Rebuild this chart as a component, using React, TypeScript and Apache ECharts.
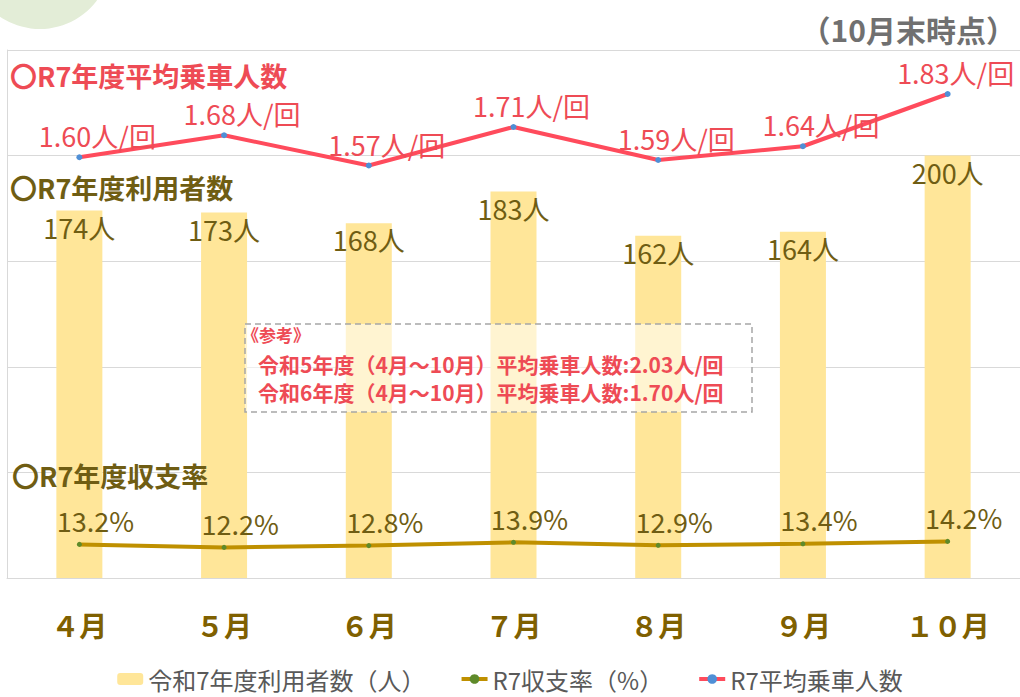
import React, { useEffect, useRef } from "react";
import * as echarts from "echarts";

const months = ["４月", "５月", "６月", "７月", "８月", "９月", "１０月"];
const users = [174, 173, 168, 183, 162, 164, 200];
const rates = [13.2, 12.2, 12.8, 13.9, 12.9, 13.4, 14.2];
const avgRiders = [1.6, 1.68, 1.57, 1.71, 1.59, 1.64, 1.83];
const refLines = [
  "令和5年度（4月～10月）平均乗車人数:2.03人/回",
  "令和6年度（4月～10月）平均乗車人数:1.70人/回",
];

const FONT = "'Noto Sans CJK JP', 'Noto Sans', sans-serif";
const OLIVE = "#6F5D13";
const RED = "#EE4B55";

export default function App() {
  const ref = useRef<HTMLDivElement>(null);
  useEffect(() => {
    if (!ref.current) return;
    const chart = echarts.init(ref.current, undefined, { renderer: "svg" });
    const lastIdx = avgRiders.length - 1;
    const avgData = avgRiders.map((v, i) =>
      i === lastIdx ? { value: v, label: { offset: [8, 0] } } : v
    );
    chart.setOption({
      animation: false,
      backgroundColor: "#ffffff",
      textStyle: { fontFamily: FONT },
      grid: { left: 7, top: 50, width: 1016, height: 528, containLabel: false },
      legend: {
        top: 662,
        left: "center",
        itemWidth: 26,
        itemHeight: 12,
        itemGap: 34,
        textStyle: { fontSize: 24, color: "#595959", fontFamily: FONT },
        data: [
          { name: "令和7年度利用者数（人）" },
          { name: "R7収支率（%）", lineStyle: { width: 4 } },
          { name: "R7平均乗車人数", lineStyle: { width: 4 } },
        ],
      },
      xAxis: {
        type: "category",
        data: months,
        axisLine: { show: true, lineStyle: { color: "#d9d9d9", width: 1 } },
        axisTick: { show: false },
        axisLabel: {
          fontSize: 28,
          fontWeight: "bold",
          color: "#7F6000",
          margin: 33,
          fontFamily: FONT,
        },
      },
      yAxis: [
        {
          type: "value",
          min: 0,
          max: 250,
          interval: 50,
          axisLabel: { show: false },
          axisTick: { show: false },
          axisLine: { show: true, lineStyle: { color: "#d9d9d9" } },
          splitLine: { show: true, lineStyle: { color: "#d9d9d9", width: 1 } },
        },
        { type: "value", min: 2, max: 178, show: false, splitLine: { show: false } },
        { type: "value", min: 0.07, max: 1.99, show: false, splitLine: { show: false } },
      ],
      series: [
        {
          name: "令和7年度利用者数（人）",
          type: "bar",
          data: users,
          barWidth: 46,
          itemStyle: { color: "#FFE699" },
          label: {
            show: true,
            position: "insideTop",
            distance: 3,
            formatter: "{c}人",
            fontSize: 27,
            color: OLIVE,
            fontFamily: FONT,
          },
          z: 2,
        },
        {
          name: "R7収支率（%）",
          type: "line",
          yAxisIndex: 1,
          data: rates,
          symbol: "circle",
          symbolSize: 5,
          lineStyle: { color: "#BF9000", width: 4 },
          itemStyle: { color: "#5E8A2A" },
          label: {
            show: true,
            position: "top",
            distance: 8,
            offset: [16, 0],
            formatter: (p: any) => Number(p.value).toFixed(1) + "%",
            fontSize: 27,
            color: OLIVE,
            fontFamily: FONT,
          },
          z: 3,
        },
        {
          name: "R7平均乗車人数",
          type: "line",
          yAxisIndex: 2,
          data: avgData,
          symbol: "circle",
          symbolSize: 6,
          lineStyle: { color: "#FF4B5C", width: 4 },
          itemStyle: { color: "#4F8FD6" },
          label: {
            show: true,
            position: "top",
            distance: 5,
            offset: [18, 0],
            formatter: (p: any) => Number(p.value).toFixed(2) + "人/回",
            fontSize: 27,
            color: RED,
            fontFamily: FONT,
          },
          z: 4,
        },
      ],
      graphic: [
        {
          type: "circle",
          shape: { cx: 40, cy: -42, r: 71 },
          style: { fill: "#E3EDD7" },
          z: 1,
        },
        {
          type: "text",
          right: 4,
          top: 14,
          style: {
            text: "（10月末時点）",
            fontSize: 30,
            fontWeight: "bold",
            fill: "#707070",
            fontFamily: FONT,
          },
          z: 100,
        },
        {
          type: "text",
          left: 10,
          top: 62,
          style: {
            text: "〇R7年度平均乗車人数",
            fontSize: 27,
            fontWeight: "bold",
            fill: RED,
            fontFamily: FONT,
          },
          z: 100,
        },
        {
          type: "text",
          left: 10,
          top: 174,
          style: {
            text: "〇R7年度利用者数",
            fontSize: 27,
            fontWeight: "bold",
            fill: OLIVE,
            fontFamily: FONT,
          },
          z: 100,
        },
        {
          type: "text",
          left: 12,
          top: 462,
          style: {
            text: "〇R7年度収支率",
            fontSize: 27,
            fontWeight: "bold",
            fill: OLIVE,
            fontFamily: FONT,
          },
          z: 100,
        },
        {
          type: "rect",
          shape: { x: 245, y: 324, width: 507, height: 88 },
          style: {
            fill: "rgba(255,255,255,0.55)",
            stroke: "#A6A6A6",
            lineWidth: 1.5,
            lineDash: [6, 4],
          },
          z: 100,
        },
        {
          type: "text",
          left: 242,
          top: 326,
          style: {
            text: "《参考》",
            fontSize: 17,
            fontWeight: "bold",
            fill: RED,
            fontFamily: FONT,
          },
          z: 101,
        },
        {
          type: "text",
          left: 258,
          top: 353,
          style: {
            text: refLines[0],
            fontSize: 21,
            fontWeight: "bold",
            fill: RED,
            fontFamily: FONT,
          },
          z: 101,
        },
        {
          type: "text",
          left: 258,
          top: 381,
          style: {
            text: refLines[1],
            fontSize: 21,
            fontWeight: "bold",
            fill: RED,
            fontFamily: FONT,
          },
          z: 101,
        },
      ],
    });
    return () => chart.dispose();
  }, []);
  return (
    <div
      ref={ref}
      style={{ position: "fixed", left: 0, top: 0, width: 1020, height: 697 }}
    />
  );
}
